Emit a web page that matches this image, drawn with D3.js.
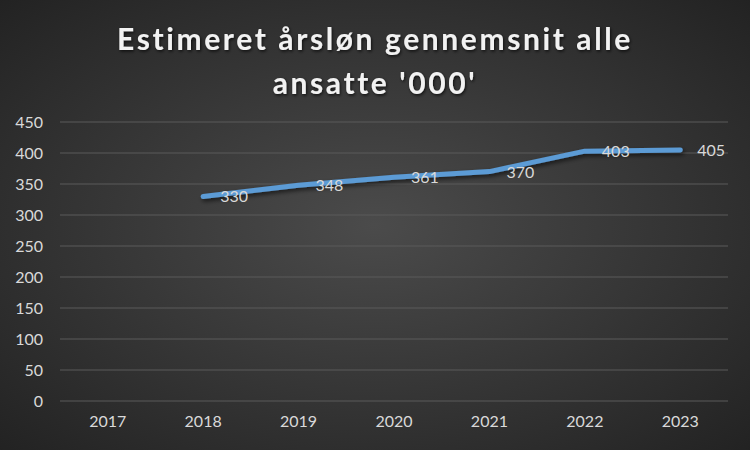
<!DOCTYPE html>
<html><head><meta charset="utf-8">
<script src="https://cdn.jsdelivr.net/npm/d3@7"></script>
<style>html,body{margin:0;padding:0;background:#333;}svg{display:block;}</style>
</head><body>
<svg id="c" width="750" height="450"></svg>
<script>
const categories = ["2017","2018","2019","2020","2021","2022","2023"];
const values = [null,330,348,361,370,403,405];
const yTicks = [0,50,100,150,200,250,300,350,400,450];
const titleLines = ["Estimeret årsløn gennemsnit alle","ansatte '000'"];

const W=750,H=450;
const svg=d3.select("#c");
const defs=svg.append("defs");
const rg=defs.append("radialGradient").attr("id","bg").attr("cx","50%").attr("cy","50%").attr("r","75%");
rg.append("stop").attr("offset","0%").attr("stop-color","#4b4b4b");
rg.append("stop").attr("offset","100%").attr("stop-color","#202020");
const f=defs.append("filter").attr("id","sh").attr("x","-10%").attr("y","-20%").attr("width","130%").attr("height","160%");
f.append("feDropShadow").attr("dx",1.5).attr("dy",2.5).attr("stdDeviation",2).attr("flood-color","#000").attr("flood-opacity",0.6);
const ft=defs.append("filter").attr("id","tsh").attr("x","-10%").attr("y","-30%").attr("width","120%").attr("height","170%");
ft.append("feDropShadow").attr("dx",1).attr("dy",1.5).attr("stdDeviation",1.5).attr("flood-color","#000").attr("flood-opacity",0.7);

svg.append("rect").attr("width",W).attr("height",H).attr("fill","url(#bg)");

const x=d3.scaleBand().domain(categories).range([60,728]);
const y=d3.scaleLinear().domain([0,450]).range([401,122]);

// gridlines
svg.append("g").selectAll("line").data(yTicks).join("line")
  .attr("x1",60).attr("x2",728).attr("y1",d=>y(d)).attr("y2",d=>y(d))
  .attr("stroke","#5a5a5a").attr("stroke-width",1);

// y axis labels
const yAxis=d3.axisLeft(y).tickValues(yTicks).tickSize(0).tickPadding(0);
const gy=svg.append("g").attr("transform","translate(43,0)").call(yAxis);
gy.select(".domain").remove();
gy.selectAll("text").attr("fill","#d9d9d9").style("font-family","Lato, 'Open Sans', sans-serif").style("font-size","16px");

// x axis labels
const xAxis=d3.axisBottom(x).tickSize(0).tickPadding(0);
const gx=svg.append("g").attr("transform","translate(0,416)").call(xAxis);
gx.select(".domain").remove();
gx.selectAll("text").attr("fill","#d9d9d9").style("font-family","Lato, 'Open Sans', sans-serif").style("font-size","16px");

// line
const pts=categories.map((c,i)=>({c,v:values[i]})).filter(d=>d.v!=null);
const line=d3.line().x(d=>x(d.c)+x.bandwidth()/2).y(d=>y(d.v));
svg.append("path").datum(pts).attr("d",line).attr("fill","none")
  .attr("stroke","#5b9bd5").attr("stroke-width",5).attr("stroke-linecap","round").attr("stroke-linejoin","round")
  .attr("filter","url(#sh)");

// data labels
svg.append("g").selectAll("text").data(pts).join("text")
  .attr("x",d=>x(d.c)+x.bandwidth()/2+17).attr("y",d=>y(d.v)+6)
  .attr("fill","#d9d9d9").style("font-family","Lato, 'Open Sans', sans-serif").style("font-size","16px")
  .text(d=>d.v);

// title
svg.append("g").selectAll("text").data(titleLines).join("text")
  .attr("x",375).attr("y",(d,i)=>50+i*44).attr("text-anchor","middle")
  .attr("fill","#f2f2f2").style("font-family","Lato, 'Open Sans', sans-serif").style("font-weight","bold")
  .style("font-size","30px").style("letter-spacing","2.6px").attr("filter","url(#tsh)")
  .text(d=>d);
</script>
</body></html>
